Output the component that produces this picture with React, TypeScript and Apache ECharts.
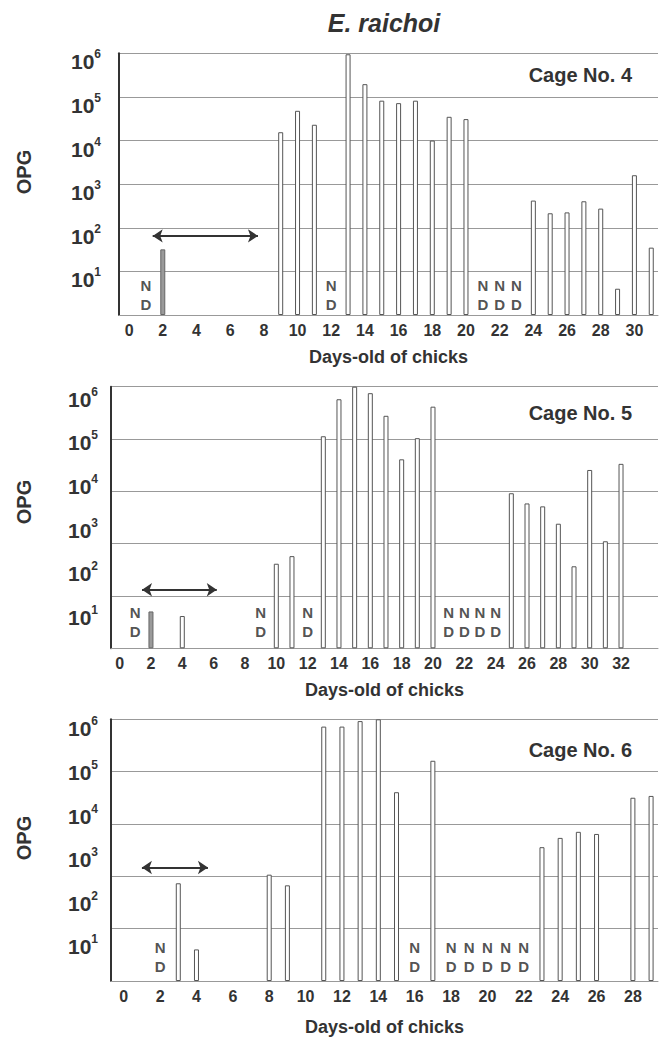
import React, { useEffect, useRef } from "react";
import * as echarts from "echarts";

// ---------- DATA ----------
// Cage No. 4
const cage4Days = [2, 9, 10, 11, 13, 14, 15, 16, 17, 18, 19, 20, 24, 25, 26, 27, 28, 29, 30, 31];
const cage4Opg = [32, 15500, 48000, 23000, 950000, 196000, 82000, 72000, 82000, 10000, 35000, 31000, 420, 215, 225, 405, 275, 4, 1600, 35];
const cage4ND = [1, 12, 21, 22, 23];
const cage4Gray = [2];
const cage4Arrow = [1.4, 7.65, 65]; // from day, to day, OPG level
const cage4Ticks = [0, 2, 4, 6, 8, 10, 12, 14, 16, 18, 20, 22, 24, 26, 28, 30];

// Cage No. 5
const cage5Days = [2, 4, 10, 11, 13, 14, 15, 16, 17, 18, 19, 20, 25, 26, 27, 28, 29, 30, 31, 32];
const cage5Opg = [7, 5.5, 87, 130, 73000, 515000, 1000000, 710000, 215000, 21600, 66000, 348000, 3600, 2100, 1800, 720, 76, 12300, 285, 17000];
const cage5ND = [1, 9, 12, 21, 22, 23, 24];
const cage5Gray = [2];
const cage5Arrow = [1.43, 6.2, 22];
const cage5Ticks = [0, 2, 4, 6, 8, 10, 12, 14, 16, 18, 20, 22, 24, 26, 28, 30, 32];

// Cage No. 6
const cage6Days = [3, 4, 8, 9, 11, 12, 13, 14, 15, 17, 23, 24, 25, 26, 28, 29];
const cage6Opg = [174, 5.3, 274, 156, 680000, 680000, 910000, 1000000, 21300, 112000, 1170, 1910, 2630, 2350, 15900, 17500];
const cage6ND = [2, 16, 18, 19, 20, 21, 22];
const cage6Gray: number[] = [];
const cage6Arrow = [1.0, 4.63, 400];
const cage6Ticks = [0, 2, 4, 6, 8, 10, 12, 14, 16, 18, 20, 22, 24, 26, 28];

const titleText = "E. raichoi";
const xName = "Days-old of chicks";
const yName = "OPG";

// ---------- LAYOUT / STYLE ----------
const FONT = "'Liberation Sans', Arial, sans-serif";
const TEXT = "#333333";
const DARK = "#262626";
const GRID_LINE = "#999999";

const panels = [
  {
    label: "Cage No. 4", days: cage4Days, opg: cage4Opg, nd: cage4ND, gray: cage4Gray, arrow: cage4Arrow, ticks: cage4Ticks,
    lay: { left: 119, top: 53.3, width: 539, height: 261.7, xMin: -0.6, xMax: 31.4, step: 1, margin: 18, shift: 14, ndGap: 1, nameGap: 33, cageY: 75, opgY: 172 },
  },
  {
    label: "Cage No. 5", days: cage5Days, opg: cage5Opg, nd: cage5ND, gray: cage5Gray, arrow: cage5Arrow, ticks: cage5Ticks,
    lay: { left: 111, top: 386.7, width: 547, height: 261.6, xMin: -0.55, xMax: 34.36, step: 1.2, margin: 13, shift: 22, ndGap: 7, nameGap: 33, cageY: 413, opgY: 502 },
  },
  {
    label: "Cage No. 6", days: cage6Days, opg: cage6Opg, nd: cage6ND, gray: cage6Gray, arrow: cage6Arrow, ticks: cage6Ticks,
    lay: { left: 111, top: 719.3, width: 547, height: 261.7, xMin: -0.7, xMax: 29.38, step: 1.2, margin: 13, shift: 16, ndGap: 5, nameGap: 37, cageY: 750, opgY: 838 },
  },
];

function buildOption() {
  const grid = panels.map((p) => ({ left: p.lay.left, top: p.lay.top, width: p.lay.width, height: p.lay.height }));

  const xAxis = panels.map((p, i) => ({
    type: "value",
    gridIndex: i,
    min: p.lay.xMin,
    max: p.lay.xMax,
    name: xName,
    nameLocation: "middle",
    nameGap: p.lay.nameGap,
    nameTextStyle: { fontFamily: FONT, fontWeight: "bold", fontSize: 18, color: TEXT },
    axisLine: { show: true, onZero: false, lineStyle: { color: GRID_LINE, width: 1 } },
    axisTick: { show: false },
    splitLine: { show: false },
    axisLabel: {
      customValues: p.ticks,
      margin: 7,
      fontFamily: FONT,
      fontWeight: "bold",
      fontSize: 16,
      color: TEXT,
      formatter: (v: number) => String(v),
    },
  }));

  const yAxis: any[] = [];
  panels.forEach((p, i) => {
    yAxis.push({
      type: "log",
      logBase: 10,
      gridIndex: i,
      min: 1,
      max: 1000000,
      position: "left",
      axisLine: { show: true, onZero: false, lineStyle: { color: TEXT, width: 2 } },
      axisTick: { show: false },
      splitLine: { show: false },
      axisLabel: {
        margin: p.lay.margin,
        padding: [p.lay.shift, 0, 0, 0],
        showMaxLabel: true,
        formatter: (v: number) => {
          const e = Math.round(Math.log10(v));
          return e <= 0 ? "" : `{b|10}{s|${e}}`;
        },
        rich: {
          b: { fontFamily: FONT, fontWeight: "bold", fontSize: 21, color: TEXT, lineHeight: 24, verticalAlign: "bottom" },
          s: { fontFamily: FONT, fontWeight: "bold", fontSize: 12, color: TEXT, lineHeight: 13, verticalAlign: "top" },
        },
      },
    });
    yAxis.push({
      type: "value",
      gridIndex: i,
      min: 0,
      max: 6,
      interval: p.lay.step,
      position: "right",
      axisLine: { show: false },
      axisTick: { show: false },
      axisLabel: { show: false },
      splitLine: { show: true, lineStyle: { color: GRID_LINE, width: 1 } },
    });
  });

  const series: any[] = [];
  panels.forEach((p, i) => {
    series.push({
      type: "bar",
      name: p.label,
      xAxisIndex: i,
      yAxisIndex: i * 2,
      barWidth: 5,
      silent: true,
      itemStyle: { color: "#ffffff", borderColor: "#555555", borderWidth: 1 },
      data: p.days.map((d, k) => ({
        value: [d, p.opg[k]],
        itemStyle: p.gray.includes(d) ? { color: "#9a9a9a", borderColor: "#666666", borderWidth: 1 } : undefined,
      })),
      markLine: {
        silent: true,
        symbol: ["arrow", "arrow"],
        symbolSize: 10,
        label: { show: false },
        lineStyle: { color: TEXT, width: 2, type: "solid" },
        data: [[{ coord: [p.arrow[0], p.arrow[2]] }, { coord: [p.arrow[1], p.arrow[2]] }]],
      },
    });
    series.push({
      type: "scatter",
      name: p.label + " ND",
      xAxisIndex: i,
      yAxisIndex: i * 2,
      silent: true,
      symbolSize: 1,
      itemStyle: { color: "rgba(0,0,0,0)" },
      data: p.nd.map((d) => [d, 1]),
      label: {
        show: true,
        position: "top",
        distance: p.lay.ndGap,
        formatter: "N\nD",
        fontFamily: FONT,
        fontWeight: "bold",
        fontSize: 15,
        lineHeight: 19,
        color: DARK,
      },
    });
  });

  const graphic: any[] = [
    {
      type: "text",
      x: 384,
      y: 23,
      style: {
        text: titleText,
        fontFamily: FONT,
        fontWeight: "bold",
        fontStyle: "italic",
        fontSize: 25,
        fill: TEXT,
        textAlign: "center",
        textVerticalAlign: "middle",
      },
    },
  ];
  panels.forEach((p) => {
    graphic.push({
      type: "text",
      x: 632,
      y: p.lay.cageY,
      style: {
        text: p.label,
        fontFamily: FONT,
        fontWeight: "bold",
        fontSize: 20,
        fill: TEXT,
        textAlign: "right",
        textVerticalAlign: "middle",
      },
    });
    graphic.push({
      type: "text",
      x: 24,
      y: p.lay.opgY,
      rotation: Math.PI / 2,
      style: {
        text: yName,
        fontFamily: FONT,
        fontWeight: "bold",
        fontSize: 20,
        fill: TEXT,
        textAlign: "center",
        textVerticalAlign: "middle",
      },
    });
  });

  return {
    animation: false,
    backgroundColor: "#ffffff",
    grid,
    xAxis,
    yAxis,
    series,
    graphic,
  };
}

export default function App() {
  const ref = useRef<HTMLDivElement>(null);
  useEffect(() => {
    document.body.style.margin = "0";
    if (!ref.current) return;
    const chart = echarts.init(ref.current, undefined, { renderer: "svg" });
    chart.setOption(buildOption() as any);
    return () => chart.dispose();
  }, []);
  return <div ref={ref} style={{ width: 667, height: 1040 }} />;
}
